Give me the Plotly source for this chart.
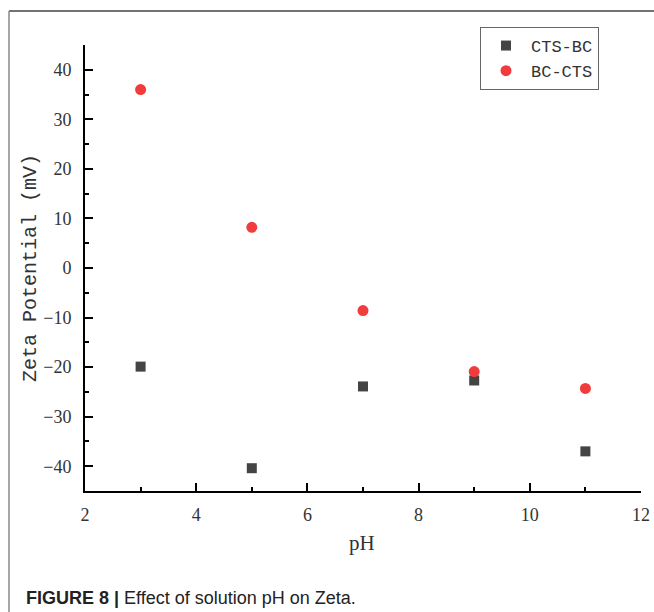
import plotly.graph_objects as go

ph = [3, 5, 7, 9, 11]
cts_bc = [-19.9, -40.4, -23.9, -22.7, -37.0]
bc_cts = [36.0, 8.2, -8.6, -20.9, -24.3]

x_ticks = [2, 4, 6, 8, 10, 12]
y_ticks = [-40, -30, -20, -10, 0, 10, 20, 30, 40]
y_tick_text = ["\u221240", "\u221230", "\u221220", "\u221210", "0", "10", "20", "30", "40"]

L, R, T, B = 85, 641, 45, 491
W, H = 654, 612

def px(x):
    return (x - L) / (R - L)

def py(y):
    return (B - y) / (B - T)

fig = go.Figure()
fig.add_trace(go.Scatter(x=ph, y=cts_bc, mode="markers", name="CTS-BC",
                         marker=dict(symbol="square", size=10, color="#444444")))
fig.add_trace(go.Scatter(x=ph, y=bc_cts, mode="markers", name="BC-CTS",
                         marker=dict(symbol="circle", size=11, color="#f03c3c")))

axis_common = dict(showline=True, linecolor="black", linewidth=2, showgrid=False,
                   zeroline=False, ticks="inside", ticklen=8, tickwidth=2, tickcolor="black",
                   automargin=False,
                   tickfont=dict(family="Liberation Serif", size=18, color="#333333"))

fig.update_xaxes(range=[2, 12], tickvals=x_ticks, ticktext=[str(v) for v in x_ticks],
                 minor=dict(dtick=1, tick0=0, ticks="inside", ticklen=4, tickwidth=2, tickcolor="black"),
                 ticklabelstandoff=6, **axis_common)
fig.update_yaxes(range=[-45, 45], tickvals=y_ticks, ticktext=y_tick_text,
                 minor=dict(dtick=5, tick0=0, ticks="inside", ticklen=4, tickwidth=2, tickcolor="black"),
                 ticklabelstandoff=8, **axis_common)

fig.update_layout(
    width=W, height=H,
    margin=dict(l=L, r=W - R, t=T, b=H - B),
    paper_bgcolor="white", plot_bgcolor="white",
    showlegend=True,
    legend=dict(x=px(480), y=py(27), xanchor="left", yanchor="top",
                bordercolor="#666666", borderwidth=1, bgcolor="white",
                font=dict(family="Liberation Mono", size=17, color="#333333"),
                itemwidth=40, tracegroupgap=0),
    shapes=[
        dict(type="line", xref="paper", yref="paper", x0=px(9), x1=px(660), y0=py(11), y1=py(11),
             line=dict(color="#444444", width=1.5)),
        dict(type="line", xref="paper", yref="paper", x0=px(9), x1=px(9), y0=py(11), y1=py(615),
             line=dict(color="#888888", width=1.5)),
    ],
    annotations=[
        dict(xref="paper", yref="paper", x=px(362), y=py(543), xanchor="center", yanchor="middle",
             showarrow=False, text="pH",
             font=dict(family="Liberation Serif", size=21, color="#333333")),
        dict(xref="paper", yref="paper", x=px(30), y=py(268), xanchor="center", yanchor="middle",
             showarrow=False, text="Zeta Potential (mV)", textangle=-90,
             font=dict(family="Liberation Mono", size=20, color="#333333")),
        dict(xref="paper", yref="paper", x=px(24), y=py(598), xanchor="left", yanchor="middle",
             showarrow=False,
             text="<b>FIGURE 8 |</b> Effect of solution pH on Zeta.",
             font=dict(family="Liberation Sans", size=18, color="#222222")),
    ],
)

fig.write_html("out.html")
